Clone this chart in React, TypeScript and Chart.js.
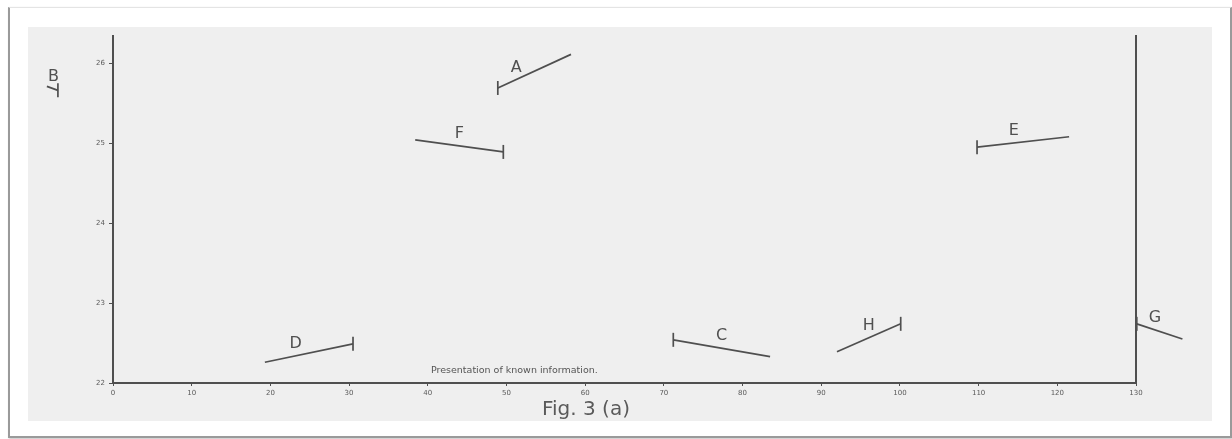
import React, { useEffect, useRef } from "react";
import { Chart, registerables } from "chart.js";

Chart.register(...registerables);

// ---- data ----
const segmentNames = ["A", "B", "C", "D", "E", "F", "G", "H"];
const startX = [48.9, -8.4, 71.2, 19.3, 109.8, 38.4, 130.1, 92.0];
const startY = [25.69, 25.71, 22.54, 22.26, 24.95, 25.04, 22.74, 22.39];
const endX = [58.2, -7.0, 83.5, 30.5, 121.5, 49.6, 135.9, 100.1];
const endY = [26.11, 25.66, 22.33, 22.49, 25.08, 24.89, 22.55, 22.74];
const barEnd = ["start", "end", "start", "end", "start", "end", "start", "end"];
const xTicks = [0, 10, 20, 30, 40, 50, 60, 70, 80, 90, 100, 110, 120, 130];
const yTicks = [22, 23, 24, 25, 26];
const captionText = "Presentation of known information.";
const figureTitle = "Fig. 3 (a)";

// ---- presentation ----
const INK = "#4f4f4f";
const labelFraction = [0.25, 0.6, 0.5, 0.35, 0.4, 0.5, 0.4, 0.5];
const captionAnchor = { x: 40.4, y: 22.16 };

const textPlugin = {
  id: "figText",
  afterDatasetsDraw(chart: any) {
    const ctx = chart.ctx;
    const area = chart.chartArea;
    ctx.save();
    // end bars that fall outside the plotting area (e.g. B, left of the axis)
    segmentNames.forEach((_, i) => {
      const meta = chart.getDatasetMeta(i);
      meta.data.forEach((pt: any) => {
        const r = pt.options && pt.options.radius;
        if (!r) return;
        if (pt.x < area.left - 4 || pt.x > area.right + 4 || pt.y < area.top - 4 || pt.y > area.bottom + 4) {
          pt.draw(ctx);
        }
      });
    });
    ctx.fillStyle = "#505050";
    ctx.font = "16px 'DejaVu Sans'";
    ctx.textAlign = "center";
    ctx.textBaseline = "middle";
    segmentNames.forEach((name, i) => {
      const meta = chart.getDatasetMeta(i);
      const p0 = meta.data[0];
      const p1 = meta.data[1];
      const t = labelFraction[i];
      const x = p0.x + (p1.x - p0.x) * t;
      const y = p0.y + (p1.y - p0.y) * t - 12;
      ctx.fillText(name, x, y);
    });
    const xs = chart.scales.x;
    const ys = chart.scales.y;
    ctx.font = "9.5px 'DejaVu Sans'";
    ctx.fillStyle = "#555555";
    ctx.textAlign = "left";
    ctx.fillText(captionText, xs.getPixelForValue(captionAnchor.x), ys.getPixelForValue(captionAnchor.y));
    ctx.restore();
  },
};

export default function App() {
  const canvasRef = useRef<HTMLCanvasElement | null>(null);

  useEffect(() => {
    if (!canvasRef.current) return;
    const datasets = segmentNames.map((name, i) => ({
      label: name,
      data: [
        { x: startX[i], y: startY[i] },
        { x: endX[i], y: endY[i] },
      ],
      showLine: true,
      borderColor: INK,
      borderWidth: 1.7,
      pointStyle: "line" as const,
      pointRotation: 90,
      pointRadius: barEnd[i] === "start" ? [7, 0] : [0, 7],
      pointBorderColor: INK,
      pointBorderWidth: 1.7,
      pointHoverRadius: 0,
      clip: false as any,
    }));

    const chart = new Chart(canvasRef.current, {
      type: "scatter",
      data: { datasets },
      plugins: [textPlugin],
      options: {
        animation: false,
        responsive: false,
        events: [],
        layout: { padding: { left: 0, top: 36, right: 96, bottom: 0 } },
        plugins: { legend: { display: false }, tooltip: { enabled: false } },
        scales: {
          x: {
            type: "linear",
            min: 0,
            max: 130,
            afterBuildTicks: (s: any) => {
              s.ticks = xTicks.map((v) => ({ value: v }));
            },
            afterFit: (s: any) => {
              s.height = 56;
            },
            border: { display: true, color: INK, width: 2 },
            grid: { drawOnChartArea: false, drawTicks: true, tickLength: 3, color: INK },
            ticks: {
              color: "#5a5a5a",
              font: { family: "DejaVu Sans", size: 7 },
              padding: 3,
              maxRotation: 0,
              autoSkip: false,
            },
          },
          y: {
            type: "linear",
            min: 22,
            max: 26.34,
            afterBuildTicks: (s: any) => {
              s.ticks = yTicks.map((v) => ({ value: v }));
            },
            afterFit: (s: any) => {
              s.width = 113;
            },
            border: { display: true, color: INK, width: 2 },
            grid: { drawOnChartArea: false, drawTicks: true, tickLength: 4, color: INK },
            ticks: {
              color: "#5a5a5a",
              font: { family: "DejaVu Sans", size: 7 },
              padding: 4,
            },
          },
          y2: {
            type: "linear",
            position: "right",
            min: 22,
            max: 26.34,
            afterFit: (s: any) => {
              s.width = 0;
            },
            border: { display: true, color: INK, width: 2 },
            grid: { drawOnChartArea: false, drawTicks: false },
            ticks: { display: false },
          },
        },
      },
    });
    return () => chart.destroy();
  }, []);

  return (
    <div style={{ position: "absolute", left: 0, top: 0, width: 1232, height: 439, background: "#ffffff", overflow: "hidden" }}>
      <div
        style={{
          position: "absolute",
          left: 8,
          top: 7,
          width: 1220,
          height: 428,
          background: "#ffffff",
          borderLeft: "2px solid #9a9a9a",
          borderRight: "2px solid #9a9a9a",
          borderBottom: "2px solid #9a9a9a",
          borderTop: "1px solid #e4e4e4",
          boxShadow: "1px 1px 2px rgba(0,0,0,0.25)",
        }}
      />
      <div
        style={{
          position: "absolute",
          left: 28,
          top: 27,
          width: 1184,
          height: 394,
          background: "#efefef",
        }}
      />
      <canvas
        ref={canvasRef}
        width={1232}
        height={439}
        style={{ position: "absolute", left: 0, top: 0, width: 1232, height: 439 }}
      />
      <div
        style={{
          position: "absolute",
          left: 542,
          top: 396,
          fontFamily: "'DejaVu Sans'",
          fontSize: 20,
          color: "#5a5a5a",
          whiteSpace: "nowrap",
          lineHeight: "24px",
        }}
      >
        {figureTitle}
      </div>
    </div>
  );
}
